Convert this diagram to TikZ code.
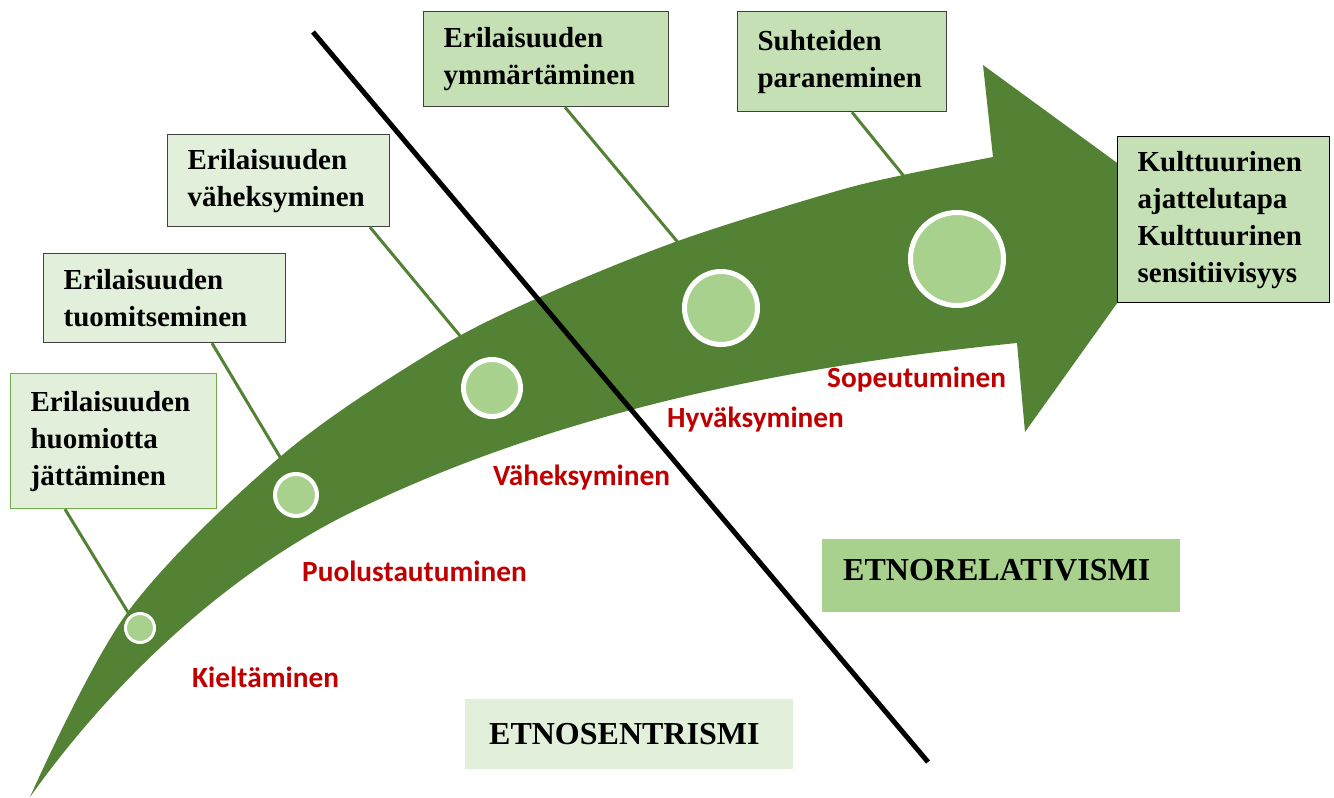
\documentclass[tikz,border=0pt]{standalone}
\usepackage{fontspec}
\setmainfont{Liberation Serif}
\newfontfamily\calfont{Carlito}

\definecolor{arrowgreen}{HTML}{548235}
\definecolor{palegreen}{HTML}{E2EFDA}
\definecolor{midgreen}{HTML}{C5E0B4}
\definecolor{dotgreen}{HTML}{A9D18E}
\definecolor{edgegreen}{HTML}{70AD47}
\definecolor{stagered}{HTML}{C00000}

\newcommand\stagefont{\fontsize{29}{37}\selectfont\bfseries}
\newcommand\phasefont{\calfont\fontsize{29.3}{35}\selectfont\bfseries}
\newcommand\erafont{\fontsize{32}{38}\selectfont\bfseries}

\tikzset{
  stagebox/.style={draw=black!75, line width=1.2pt, fill=palegreen,
    font=\stagefont, align=left, inner xsep=20pt, inner ysep=0pt,
    anchor=north west},
  leader/.style={draw=arrowgreen, line width=3pt},
  dot/.style={circle, draw=white, fill=dotgreen, inner sep=0pt},
  phase/.style={font=\phasefont, text=stagered, anchor=base west, inner sep=0pt},
  erabox/.style={font=\erafont, align=left, anchor=north west,
    inner ysep=0pt, inner xsep=21pt}
}

\begin{document}
\begin{tikzpicture}[x=1pt, y=-1pt]
\useasboundingbox (0,0) rectangle (1334,798);

% stage boxes
\node[stagebox, draw=edgegreen, minimum width=206, minimum height=135, text width=166]
  (b1) at (10,373) {Erilaisuuden\\huomiotta\\jättäminen};
\node[stagebox, minimum width=242, minimum height=89, text width=202]
  (b2) at (43,253) {Erilaisuuden\\tuomitseminen};
\node[stagebox, minimum width=222, minimum height=92, text width=182]
  (b3) at (167,134) {Erilaisuuden\\väheksyminen};
\node[stagebox, fill=midgreen, minimum width=245, minimum height=95, text width=205]
  (b4) at (423,11) {Erilaisuuden\\ymmärtäminen};
\node[stagebox, fill=midgreen, minimum width=209, minimum height=100, text width=169]
  (b5) at (737,11) {Suhteiden\\paraneminen};

% points where the leader lines meet the arrow
\coordinate (e1) at (129,614);
\coordinate (e2) at (292,477);
\coordinate (e3) at (466,343);
\coordinate (e4) at (681,246);
\coordinate (e5) at (907,180);

\draw[leader] ([xshift=55pt]b1.south west) -- (e1);
\draw[leader] ([xshift=203pt]b3.south west) -- (e3);
\draw[leader] ([xshift=142pt]b4.south west) -- (e4);
\draw[leader] ([xshift=115pt]b5.south west) -- (e5);

% the curved arrow
\fill[arrowgreen]
  plot[smooth, tension=0.55] coordinates {(30,797) (127,613) (280,457) (430,353)
    (540,297) (678,241) (830,193) (903,175) (993,157)}
  -- (983,65) -- (1183,211) -- (1025,432) -- (1017,343)
  .. controls (797,365) and (560,410) .. (350,513)
  .. controls (250,562) and (130,657) .. (30,797)
  -- cycle;

\draw[leader] ([xshift=169pt]b2.south west) -- (e2);

% milestones on the arrow
\node[dot, line width=3pt, minimum size=29pt] (c1) at (140,628) {};
\node[dot, line width=4pt, minimum size=42pt] (c2) at (296,495) {};
\node[dot, line width=5pt, minimum size=57pt] (c3) at (492,388) {};
\node[dot, line width=5pt, minimum size=73pt] (c4) at (721,308) {};
\node[dot, line width=5pt, minimum size=93pt] (c5) at (957,259) {};

% final stage
\node[stagebox, draw=black, fill=midgreen, minimum width=212, minimum height=166, text width=172]
  (b6) at (1117,136) {Kulttuurinen\\ajattelutapa\\Kulttuurinen\\sensitiivisyys};

% dividing line between the two worldviews
\coordinate (d1) at (313,32);
\coordinate (d2) at (928,762);
\draw[line width=5pt] (d1) -- (d2);

% phase names
\node[phase] (p1) at (192,687) {Kieltäminen};
\node[phase] (p2) at (302,581) {Puolustautuminen};
\node[phase] (p3) at (493,485) {Väheksyminen};
\node[phase] (p4) at (667,427) {Hyväksyminen};
\node[phase] (p5) at (827,387) {Sopeutuminen};

% worldview labels
\node[erabox, fill=dotgreen, minimum width=358, minimum height=73, text width=316,
  text depth=12pt] (r1) at (822,539) {ETNORELATIVISMI};
\node[erabox, fill=palegreen, minimum width=328, minimum height=70, text width=280,
  inner xsep=24pt] (r2) at (465,699) {ETNOSENTRISMI};
\end{tikzpicture}
\end{document}
